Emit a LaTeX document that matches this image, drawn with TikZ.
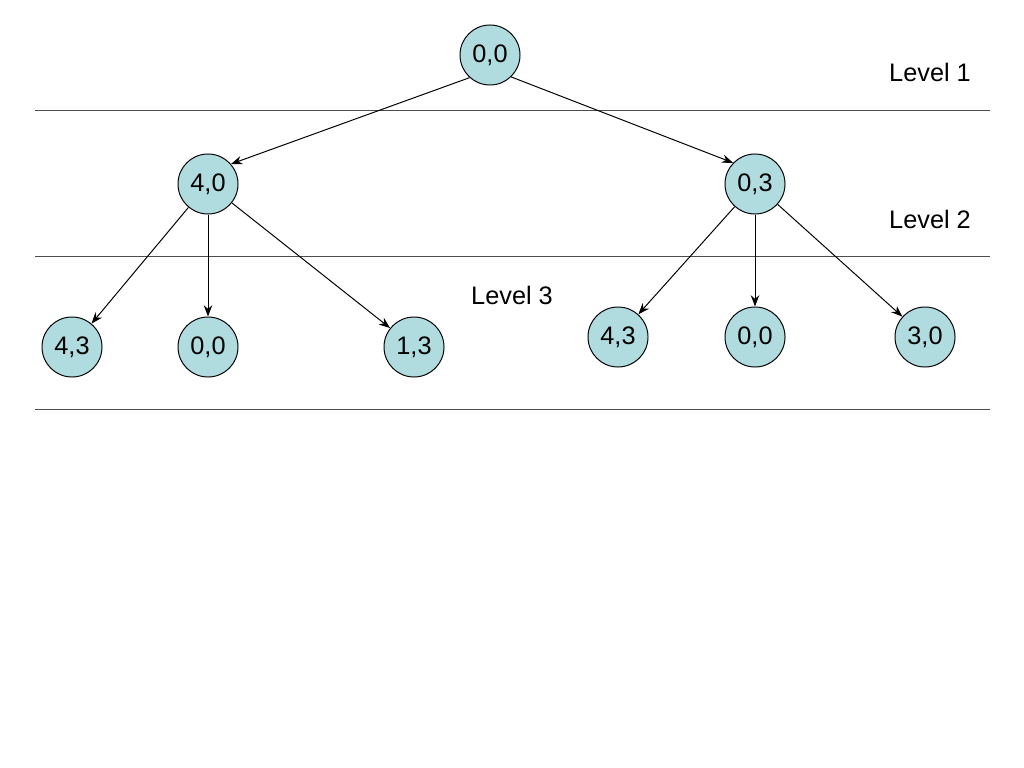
\documentclass[tikz,border=0pt]{standalone}
\usepackage{fontspec}
\setmainfont{Liberation Sans}
\usetikzlibrary{arrows.meta}
\definecolor{nodefill}{RGB}{176,220,224}
\begin{document}
\begin{tikzpicture}[x=0.025cm,y=-0.025cm,
  state/.style={circle,draw=black,line width=0.7pt,fill=nodefill,minimum size=1.5cm,inner sep=0pt,font=\fontsize{18}{21}\selectfont},
  edge/.style={-{Stealth[length=8pt,width=6pt]},line width=0.7pt},
  rule/.style={line width=0.7pt,draw=black!70},
  lbl/.style={font=\fontsize{18}{21}\selectfont}]
\useasboundingbox (0,0) rectangle (1024,768);
\fill[white] (0,0) rectangle (1024,768);
\draw[rule] (35,110) -- (990,110);
\draw[rule] (35,256) -- (990,256);
\draw[rule] (35,409) -- (990,409);
\node[state] (r) at (490,55) {0,0};
\node[state] (a) at (208,184) {4,0};
\node[state] (b) at (755,184) {0,3};
\node[state] (a1) at (72,347) {4,3};
\node[state] (a2) at (208,347) {0,0};
\node[state] (a3) at (414,347) {1,3};
\node[state] (b1) at (618,337) {4,3};
\node[state] (b2) at (755,337) {0,0};
\node[state] (b3) at (925,337) {3,0};
\node[lbl] (l1) at (930,72) {Level 1};
\node[lbl] (l2) at (930,219) {Level 2};
\node[lbl] (l3) at (512,295) {Level 3};
\draw[edge] (r.228) -- (a.41);
\draw[edge] (r.314) -- (b.136);
\draw[edge] (a) -- (a1);
\draw[edge] (a) -- (a2);
\draw[edge] (a) -- (a3);
\draw[edge] (b) -- (b1);
\draw[edge] (b) -- (b2);
\draw[edge] (b) -- (b3);
\end{tikzpicture}
\end{document}
